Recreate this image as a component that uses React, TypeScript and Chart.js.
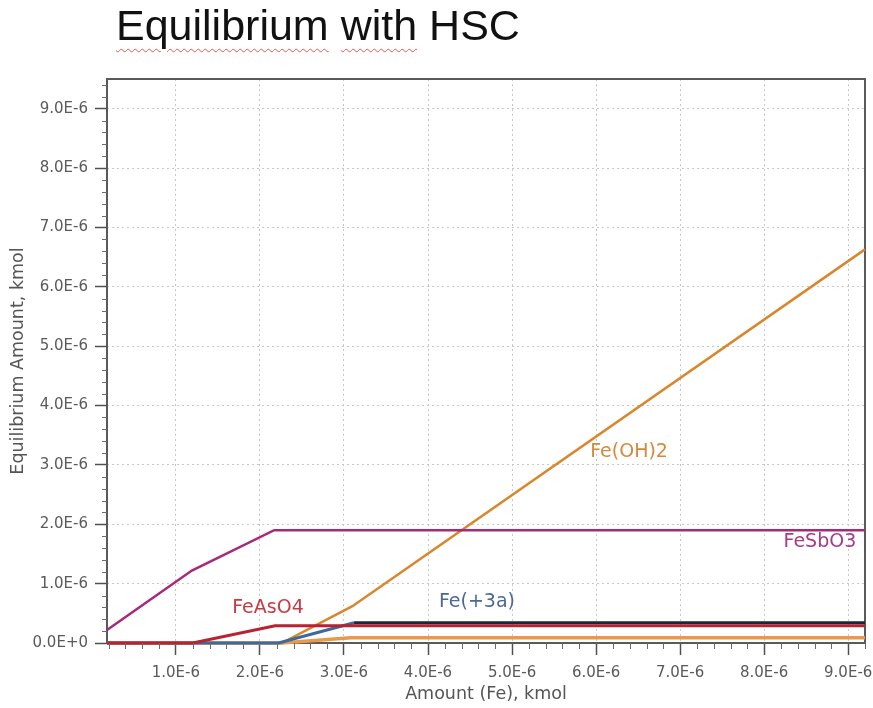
import React, { useEffect, useRef } from "react";
import { Chart, registerables } from "chart.js";

Chart.register(...registerables);

// ---- axis settings (kmol) ----
const X_MIN = 0.18e-6;
const X_MAX = 9.2e-6;
const Y_MIN = 0;
const Y_MAX = 9.5e-6;
const X_TICKS = [1e-6, 2e-6, 3e-6, 4e-6, 5e-6, 6e-6, 7e-6, 8e-6, 9e-6];
const Y_TICKS = [0, 1e-6, 2e-6, 3e-6, 4e-6, 5e-6, 6e-6, 7e-6, 8e-6, 9e-6];

// ---- series (x: Amount (Fe), kmol ; y: Equilibrium Amount, kmol) ----
const FESBO3_X = [0.18e-6, 1.19e-6, 2.17e-6, 9.2e-6];
const FESBO3_Y = [0.22e-6, 1.22e-6, 1.9e-6, 1.9e-6];

const FEASO4_X = [0.18e-6, 1.2e-6, 2.18e-6, 9.2e-6];
const FEASO4_Y = [0, 0, 0.29e-6, 0.29e-6];

const FE3A_X = [0.18e-6, 2.22e-6, 3.12e-6, 9.2e-6];
const FE3A_Y = [0, 0, 0.34e-6, 0.34e-6];

const FEOH2_X = [0.18e-6, 2.26e-6, 3.1e-6, 9.2e-6];
const FEOH2_Y = [0, 0, 0.62e-6, 6.63e-6];

const LOW_X = [0.18e-6, 2.26e-6, 3.08e-6, 9.2e-6];
const LOW_Y = [0, 0, 0.09e-6, 0.09e-6];

// ---- in-plot series labels (anchored in data units) ----
const LABEL_TEXT = ["Fe(OH)2", "Fe(+3a)", "FeAsO4", "FeSbO3"];
const LABEL_X = [5.93e-6, 4.13e-6, 1.67e-6, 8.23e-6];
const LABEL_Y = [3.22e-6, 0.69e-6, 0.59e-6, 1.7e-6];
const LABEL_COLOR = ["#d38a3e", "#4a6a94", "#c43c44", "#a83a86"];

const FONT = "'DejaVu Sans', Verdana, sans-serif";

const pts = (xs: number[], ys: number[]) => xs.map((x, i) => ({ x, y: ys[i] }));

const fmt = (v: number) => (v === 0 ? "0.0E+0" : (v / 1e-6).toFixed(1) + "E-6");

const decorPlugin = {
  id: "decor",
  beforeDatasetsDraw(chart: any) {
    const { ctx, chartArea: a } = chart;
    ctx.save();
    ctx.strokeStyle = "#5a5a5a";
    ctx.lineWidth = 2;
    ctx.strokeRect(a.left, a.top, a.right - a.left, a.bottom - a.top);
    ctx.restore();
  },
  afterDraw(chart: any) {
    const { ctx, chartArea: a, scales } = chart;
    const xs = scales.x;
    const ys = scales.y;
    ctx.save();
    ctx.strokeStyle = "#6a6a6a";
    ctx.lineWidth = 1;
    // minor ticks x
    for (let i = 1; i <= 46; i++) {
      if (i % 5 === 0) continue;
      const v = i * 0.2e-6;
      if (v < X_MIN || v > X_MAX) continue;
      const px = Math.round(xs.getPixelForValue(v)) + 0.5;
      ctx.beginPath();
      ctx.moveTo(px, a.bottom);
      ctx.lineTo(px, a.bottom + 6);
      ctx.stroke();
    }
    // minor ticks y
    for (let i = 1; i <= 47; i++) {
      if (i % 5 === 0) continue;
      const v = i * 0.2e-6;
      if (v > Y_MAX) continue;
      const py = Math.round(ys.getPixelForValue(v)) + 0.5;
      ctx.beginPath();
      ctx.moveTo(a.left - 5, py);
      ctx.lineTo(a.left, py);
      ctx.stroke();
    }
    // series labels
    ctx.font = `19px ${FONT}`;
    ctx.textAlign = "left";
    ctx.textBaseline = "middle";
    LABEL_TEXT.forEach((t, i) => {
      ctx.fillStyle = LABEL_COLOR[i];
      ctx.fillText(t, xs.getPixelForValue(LABEL_X[i]), ys.getPixelForValue(LABEL_Y[i]));
    });
    ctx.restore();
  },
};

const FE3A_BLUE = "#3d68a0";
const FE3A_DARK = "#1d2538";

export default function App() {
  const ref = useRef<HTMLCanvasElement | null>(null);

  useEffect(() => {
    if (!ref.current) return;
    const chart = new Chart(ref.current, {
      type: "line",
      data: {
        datasets: [
          {
            label: "FeSbO3",
            data: pts(FESBO3_X, FESBO3_Y),
            borderColor: "#a8287a",
            borderWidth: 2.5,
            pointRadius: 0,
            tension: 0,
            clip: 4,
          },
          {
            label: "FeAsO4",
            data: pts(FEASO4_X, FEASO4_Y),
            borderColor: "#b82232",
            borderWidth: 3,
            pointRadius: 0,
            tension: 0,
            clip: 4,
          },
          {
            label: "Fe(+3a)",
            data: pts(FE3A_X, FE3A_Y),
            borderColor: FE3A_BLUE,
            segment: {
              borderColor: (c: any) =>
                c.p0.parsed.y > 0 && c.p0.parsed.y === c.p1.parsed.y ? FE3A_DARK : FE3A_BLUE,
            },
            borderWidth: 3,
            pointRadius: 0,
            tension: 0,
            clip: 4,
          },
          {
            label: "Fe(OH)2",
            data: pts(FEOH2_X, FEOH2_Y),
            borderColor: "#d9862c",
            borderWidth: 2.5,
            pointRadius: 0,
            tension: 0,
            clip: 4,
          },
          {
            label: "Fe(OH)3",
            data: pts(LOW_X, LOW_Y),
            borderColor: "#e59a4c",
            borderWidth: 3.5,
            pointRadius: 0,
            tension: 0,
            clip: 4,
          },
        ],
      },
      options: {
        animation: false,
        responsive: false,
        devicePixelRatio: 1,
        layout: { padding: { left: 8, top: 79, right: 8, bottom: 3 } },
        plugins: {
          legend: { display: false },
          tooltip: { enabled: false },
        },
        scales: {
          x: {
            type: "linear",
            min: X_MIN,
            max: X_MAX,
            afterBuildTicks: (s: any) => {
              s.ticks = X_TICKS.map((value) => ({ value }));
            },
            afterFit: (s: any) => {
              s.height = 62;
              s.paddingLeft = 0;
              s.paddingRight = 0;
            },
            ticks: {
              callback: (v: any) => fmt(Number(v)),
              font: { family: FONT, size: 15 },
              color: "#5a5a5a",
              padding: 9,
              maxRotation: 0,
              autoSkip: false,
            },
            grid: {
              color: "#c8c8c8",
              lineWidth: 1,
              drawTicks: true,
              tickLength: 12,
              tickColor: "#505050",
              tickWidth: 1.5,
              tickBorderDash: [],
            },
            border: { display: false, dash: [2, 3] },
            title: {
              display: true,
              text: "Amount (Fe), kmol",
              font: { family: FONT, size: 17.5 },
              color: "#555555",
              padding: 0,
            },
          },
          y: {
            type: "linear",
            min: Y_MIN,
            max: Y_MAX,
            afterBuildTicks: (s: any) => {
              s.ticks = Y_TICKS.map((value) => ({ value }));
            },
            afterFit: (s: any) => {
              s.width = 99;
              s.paddingTop = 0;
              s.paddingBottom = 0;
            },
            ticks: {
              callback: (v: any) => fmt(Number(v)),
              font: { family: FONT, size: 15 },
              color: "#5a5a5a",
              padding: 7,
              autoSkip: false,
            },
            grid: {
              color: "#c8c8c8",
              lineWidth: 1,
              drawTicks: true,
              tickLength: 12,
              tickColor: "#505050",
              tickWidth: 1.5,
              tickBorderDash: [],
            },
            border: { display: false, dash: [2, 3] },
            title: {
              display: true,
              text: "Equilibrium Amount, kmol",
              font: { family: FONT, size: 17.5 },
              color: "#555555",
              padding: 0,
            },
          },
        },
      },
      plugins: [decorPlugin],
    } as any);
    return () => chart.destroy();
  }, []);

  const wavy: React.CSSProperties = {
    textDecorationLine: "underline",
    textDecorationStyle: "wavy",
    textDecorationColor: "#e05a5a",
    textDecorationThickness: "1px",
    textUnderlineOffset: "8px",
  };

  return (
    <div
      style={{
        position: "fixed",
        left: 0,
        top: 0,
        width: 873,
        height: 708,
        background: "#ffffff",
        overflow: "hidden",
      }}
    >
      <canvas ref={ref} width={873} height={708} style={{ display: "block", width: 873, height: 708 }} />
      <div
        style={{
          position: "absolute",
          left: 116,
          top: 4,
          font: "43px 'Liberation Sans', Arial, sans-serif",
          lineHeight: "43px",
          color: "#111111",
          whiteSpace: "nowrap",
        }}
      >
        <span style={wavy}>Equilibrium</span> <span style={wavy}>with</span> HSC
      </div>
    </div>
  );
}
